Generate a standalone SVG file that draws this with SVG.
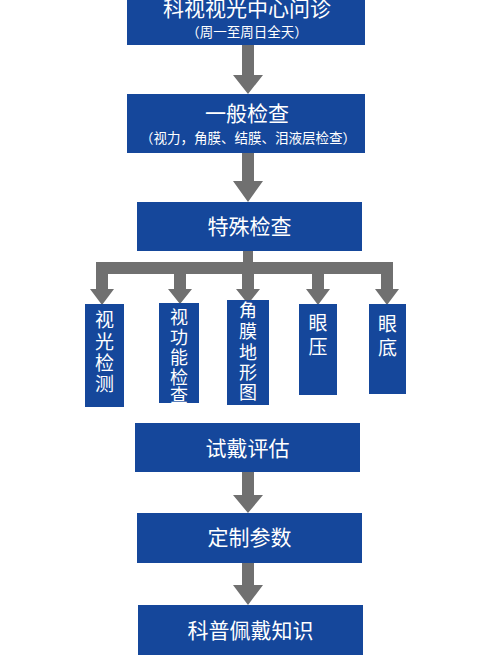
<svg xmlns="http://www.w3.org/2000/svg" width="500" height="666" viewBox="0 0 500 666">
<style>
.box{fill:#15479b}
.arr{fill:#707070}
.t{fill:#ffffff;font-family:"Noto Sans CJK SC","Noto Sans",sans-serif;text-anchor:middle}
.big{font-size:21px}
.sm{font-size:13.5px}
.v{font-size:19px}
.v5{font-size:18px}
</style>
<rect width="500" height="666" fill="#ffffff"/>
<g id="connectors">
<polygon class="arr" points="242,45 254,45 254,75 263,75 248,94 233,75 242,75"/>
<polygon class="arr" points="242,153 254,153 254,181 263,181 248,202 233,181 242,181"/>
<path class="arr" d="M243,251 H253 V262 H393 V289 H399 L387,305 L375,289 H381 V274 H324 V289 H330 L318,305 L306,289 H312 V274 H254 V289 H260 L248,304 L236,289 H242 V274 H186 V289 H192 L180,304 L168,289 H174 V274 H108 V289 H114 L102,305 L90,289 H96 V262 H243 Z"/>
<polygon class="arr" points="242,472 254,472 254,495 263,495 248,513 233,495 242,495"/>
<polygon class="arr" points="242,563 254,563 254,585 263,585 248,605 233,585 242,585"/>
</g>
<g id="n1">
<rect class="box" x="127" y="-5" width="238" height="50"/>
<text class="t big" x="247" y="16">科视视光中心问诊</text>
<text class="t sm" x="247" y="37">（周一至周日全天）</text>
</g>
<g id="n2">
<rect class="box" x="127" y="94" width="238" height="59"/>
<text class="t big" x="247" y="120.5">一般检查</text>
<text class="t sm" x="248" y="142.5">（视力，角膜、结膜、泪液层检查）</text>
</g>
<g id="n3">
<rect class="box" x="137" y="202" width="225" height="49"/>
<text class="t big" x="249.5" y="233.5">特殊检查</text>
</g>
<g id="n4">
<rect class="box" x="85" y="304" width="39" height="103"/>
<text class="t v" x="104.5" y="327">视<tspan x="104.5" dy="22">光</tspan><tspan x="104.5" dy="21">检</tspan><tspan x="104.5" dy="21">测</tspan></text>
</g>
<g id="n5">
<rect class="box" x="159" y="303" width="40" height="100"/>
<text class="t v5" x="179" y="323.5">视<tspan x="179" dy="20">功</tspan><tspan x="179" dy="20">能</tspan><tspan x="179" dy="20">检</tspan><tspan x="179" dy="18.5">查</tspan></text>
</g>
<g id="n6">
<rect class="box" x="227" y="300" width="42" height="105"/>
<text class="t v5" x="248" y="316.5">角<tspan x="248" dy="21">膜</tspan><tspan x="248" dy="21">地</tspan><tspan x="248" dy="20">形</tspan><tspan x="248" dy="20">图</tspan></text>
</g>
<g id="n7">
<rect class="box" x="299" y="304" width="38" height="91"/>
<text class="t v" x="318" y="330">眼<tspan x="318" dy="24">压</tspan></text>
</g>
<g id="n8">
<rect class="box" x="369" y="304" width="37" height="90"/>
<text class="t v" x="387.5" y="331">眼<tspan x="387.5" dy="24">底</tspan></text>
</g>
<g id="n9">
<rect class="box" x="135" y="423" width="225" height="49"/>
<text class="t big" x="247.5" y="455.5">试戴评估</text>
</g>
<g id="n10">
<rect class="box" x="137" y="513" width="225" height="50"/>
<text class="t big" x="249.5" y="544.5">定制参数</text>
</g>
<g id="n11">
<rect class="box" x="138" y="605" width="225" height="50"/>
<text class="t big" x="250.5" y="637.5">科普佩戴知识</text>
</g>
</svg>
